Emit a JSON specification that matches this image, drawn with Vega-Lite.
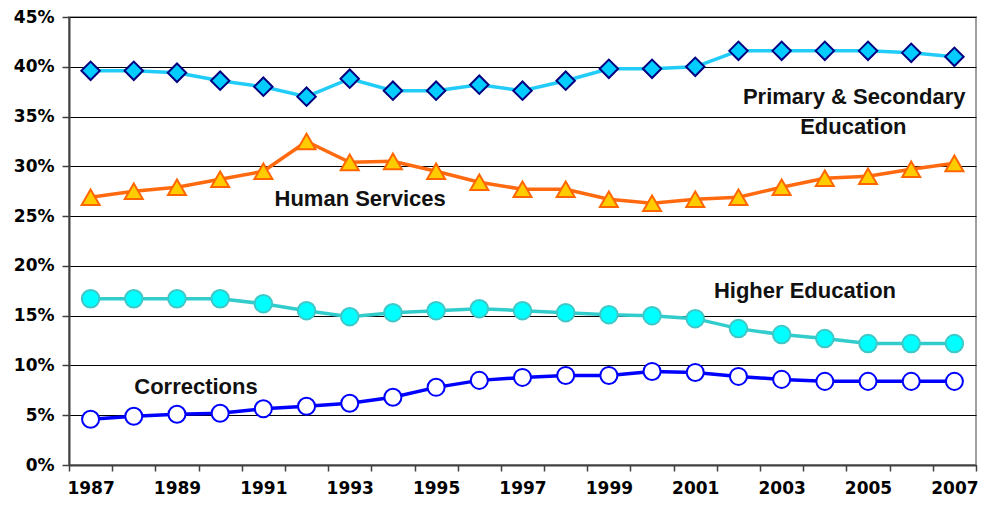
{
  "$schema": "https://vega.github.io/schema/vega-lite/v6.json",
  "autosize": "none",
  "width": 907,
  "height": 448,
  "padding": {"left": 69, "top": 17, "right": 5, "bottom": 45},
  "background": "white",
  "config": {
    "view": {"stroke": "#a0a0a0", "strokeWidth": 2},
    "axis": {
      "labelFont": "DejaVu Sans",
      "labelFontWeight": "bold",
      "labelFontSize": 17,
      "labelColor": "#000000",
      "domainColor": "#404040",
      "domainWidth": 2,
      "tickColor": "#404040",
      "tickWidth": 1.5,
      "title": null
    }
  },
  "datasets": {
    "shares": [
      {"year": 1987, "series": "Primary & Secondary Education", "value": 39.6},
      {"year": 1988, "series": "Primary & Secondary Education", "value": 39.6},
      {"year": 1989, "series": "Primary & Secondary Education", "value": 39.4},
      {"year": 1990, "series": "Primary & Secondary Education", "value": 38.6},
      {"year": 1991, "series": "Primary & Secondary Education", "value": 38.0},
      {"year": 1992, "series": "Primary & Secondary Education", "value": 37.0},
      {"year": 1993, "series": "Primary & Secondary Education", "value": 38.8},
      {"year": 1994, "series": "Primary & Secondary Education", "value": 37.6},
      {"year": 1995, "series": "Primary & Secondary Education", "value": 37.6},
      {"year": 1996, "series": "Primary & Secondary Education", "value": 38.2},
      {"year": 1997, "series": "Primary & Secondary Education", "value": 37.6},
      {"year": 1998, "series": "Primary & Secondary Education", "value": 38.6},
      {"year": 1999, "series": "Primary & Secondary Education", "value": 39.8},
      {"year": 2000, "series": "Primary & Secondary Education", "value": 39.8},
      {"year": 2001, "series": "Primary & Secondary Education", "value": 40.0},
      {"year": 2002, "series": "Primary & Secondary Education", "value": 41.6},
      {"year": 2003, "series": "Primary & Secondary Education", "value": 41.6},
      {"year": 2004, "series": "Primary & Secondary Education", "value": 41.6},
      {"year": 2005, "series": "Primary & Secondary Education", "value": 41.6},
      {"year": 2006, "series": "Primary & Secondary Education", "value": 41.4},
      {"year": 2007, "series": "Primary & Secondary Education", "value": 41.0},
      {"year": 1987, "series": "Human Services", "value": 26.9},
      {"year": 1988, "series": "Human Services", "value": 27.5},
      {"year": 1989, "series": "Human Services", "value": 27.9},
      {"year": 1990, "series": "Human Services", "value": 28.7},
      {"year": 1991, "series": "Human Services", "value": 29.5},
      {"year": 1992, "series": "Human Services", "value": 32.5},
      {"year": 1993, "series": "Human Services", "value": 30.4},
      {"year": 1994, "series": "Human Services", "value": 30.5},
      {"year": 1995, "series": "Human Services", "value": 29.5},
      {"year": 1996, "series": "Human Services", "value": 28.4},
      {"year": 1997, "series": "Human Services", "value": 27.7},
      {"year": 1998, "series": "Human Services", "value": 27.7},
      {"year": 1999, "series": "Human Services", "value": 26.7},
      {"year": 2000, "series": "Human Services", "value": 26.3},
      {"year": 2001, "series": "Human Services", "value": 26.7},
      {"year": 2002, "series": "Human Services", "value": 26.9},
      {"year": 2003, "series": "Human Services", "value": 27.9},
      {"year": 2004, "series": "Human Services", "value": 28.8},
      {"year": 2005, "series": "Human Services", "value": 29.0},
      {"year": 2006, "series": "Human Services", "value": 29.7},
      {"year": 2007, "series": "Human Services", "value": 30.3},
      {"year": 1987, "series": "Higher Education", "value": 16.7},
      {"year": 1988, "series": "Higher Education", "value": 16.7},
      {"year": 1989, "series": "Higher Education", "value": 16.7},
      {"year": 1990, "series": "Higher Education", "value": 16.7},
      {"year": 1991, "series": "Higher Education", "value": 16.2},
      {"year": 1992, "series": "Higher Education", "value": 15.5},
      {"year": 1993, "series": "Higher Education", "value": 14.9},
      {"year": 1994, "series": "Higher Education", "value": 15.3},
      {"year": 1995, "series": "Higher Education", "value": 15.5},
      {"year": 1996, "series": "Higher Education", "value": 15.7},
      {"year": 1997, "series": "Higher Education", "value": 15.5},
      {"year": 1998, "series": "Higher Education", "value": 15.3},
      {"year": 1999, "series": "Higher Education", "value": 15.1},
      {"year": 2000, "series": "Higher Education", "value": 15.0},
      {"year": 2001, "series": "Higher Education", "value": 14.7},
      {"year": 2002, "series": "Higher Education", "value": 13.7},
      {"year": 2003, "series": "Higher Education", "value": 13.1},
      {"year": 2004, "series": "Higher Education", "value": 12.7},
      {"year": 2005, "series": "Higher Education", "value": 12.2},
      {"year": 2006, "series": "Higher Education", "value": 12.2},
      {"year": 2007, "series": "Higher Education", "value": 12.2},
      {"year": 1987, "series": "Corrections", "value": 4.6},
      {"year": 1988, "series": "Corrections", "value": 4.9},
      {"year": 1989, "series": "Corrections", "value": 5.1},
      {"year": 1990, "series": "Corrections", "value": 5.2},
      {"year": 1991, "series": "Corrections", "value": 5.65},
      {"year": 1992, "series": "Corrections", "value": 5.9},
      {"year": 1993, "series": "Corrections", "value": 6.2},
      {"year": 1994, "series": "Corrections", "value": 6.8},
      {"year": 1995, "series": "Corrections", "value": 7.8},
      {"year": 1996, "series": "Corrections", "value": 8.5},
      {"year": 1997, "series": "Corrections", "value": 8.8},
      {"year": 1998, "series": "Corrections", "value": 9.0},
      {"year": 1999, "series": "Corrections", "value": 9.0},
      {"year": 2000, "series": "Corrections", "value": 9.4},
      {"year": 2001, "series": "Corrections", "value": 9.3},
      {"year": 2002, "series": "Corrections", "value": 8.9},
      {"year": 2003, "series": "Corrections", "value": 8.6},
      {"year": 2004, "series": "Corrections", "value": 8.4},
      {"year": 2005, "series": "Corrections", "value": 8.4},
      {"year": 2006, "series": "Corrections", "value": 8.4},
      {"year": 2007, "series": "Corrections", "value": 8.4}
    ],
    "labels": [
      {"x": 1993.24, "y": 26.7, "text": "Human Services"},
      {"x": 2003.54, "y": 17.5, "text": "Higher Education"},
      {"x": 1989.44, "y": 7.8, "text": "Corrections"},
      {"x": 2004.68, "y": 36.96, "text": "Primary & Secondary"},
      {"x": 2004.66, "y": 33.95, "text": "Education"}
    ]
  },
  "data": {"name": "shares"},
  "encoding": {
    "x": {
      "field": "year",
      "type": "quantitative",
      "scale": {"domain": [1986.5, 2007.5], "nice": false, "zero": false},
      "axis": {
        "values": [1986.5, 1987.5, 1988.5, 1989.5, 1990.5, 1991.5, 1992.5, 1993.5, 1994.5, 1995.5, 1996.5, 1997.5, 1998.5, 1999.5, 2000.5, 2001.5, 2002.5, 2003.5, 2004.5, 2005.5, 2006.5, 2007.5],
        "labelExpr": "(datum.value - 1986.5) % 2 == 0 && datum.value < 2007 ? format(datum.value + 0.5, 'd') : ''",
        "labelOffset": 21.6,
        "labelOverlap": false,
        "labelBound": false,
        "labelFlush": false,
        "labelPadding": 9,
        "tickSize": 6,
        "grid": false
      }
    },
    "y": {
      "field": "value",
      "type": "quantitative",
      "scale": {"domain": [0, 45], "nice": false},
      "axis": {
        "values": [0, 5, 10, 15, 20, 25, 30, 35, 40, 45],
        "labelExpr": "datum.value + '%'",
        "grid": true,
        "gridColor": "#000000",
        "gridWidth": 1,
        "tickSize": 7,
        "labelPadding": 8
      }
    }
  },
  "layer": [
    {
      "mark": {"type": "line"},
      "encoding": {
        "detail": {"field": "series"},
        "color": {
          "field": "series",
          "type": "nominal",
          "scale": {
            "domain": ["Primary & Secondary Education", "Human Services", "Higher Education", "Corrections"],
            "range": ["#22CCF8", "#FF6A10", "#33CCCC", "#0000FF"]
          },
          "legend": null
        },
        "strokeWidth": {
          "field": "series",
          "type": "ordinal",
          "scale": {
            "domain": ["Primary & Secondary Education", "Human Services", "Higher Education", "Corrections"],
            "range": [3.5, 3.5, 3.5, 5]
          },
          "legend": null
        }
      }
    },
    {
      "mark": {"type": "point", "filled": true, "opacity": 1, "strokeWidth": 2},
      "encoding": {
        "shape": {
          "field": "series",
          "type": "nominal",
          "scale": {
            "domain": ["Primary & Secondary Education", "Human Services", "Higher Education", "Corrections"],
            "range": ["diamond", "triangle-up", "circle", "circle"]
          },
          "legend": null
        },
        "size": {
          "field": "series",
          "type": "ordinal",
          "scale": {
            "domain": ["Primary & Secondary Education", "Human Services", "Higher Education", "Corrections"],
            "range": [340, 290, 300, 300]
          },
          "legend": null
        },
        "fill": {
          "field": "series",
          "type": "nominal",
          "scale": {
            "domain": ["Primary & Secondary Education", "Human Services", "Higher Education", "Corrections"],
            "range": ["#00CCFF", "#FFCC00", "#00FFFF", "#FFFFFF"]
          },
          "legend": null
        },
        "stroke": {
          "field": "series",
          "type": "nominal",
          "scale": {
            "domain": ["Primary & Secondary Education", "Human Services", "Higher Education", "Corrections"],
            "range": ["#000080", "#FF6600", "#40C8C8", "#0000FF"]
          },
          "legend": null
        }
      }
    },
    {
      "data": {"name": "labels"},
      "mark": {"type": "text", "font": "Liberation Sans", "fontWeight": "bold", "fontSize": 22, "color": "#111111", "align": "center", "baseline": "middle"},
      "encoding": {
        "x": {"field": "x", "type": "quantitative"},
        "y": {"field": "y", "type": "quantitative"},
        "text": {"field": "text"}
      }
    }
  ]
}
